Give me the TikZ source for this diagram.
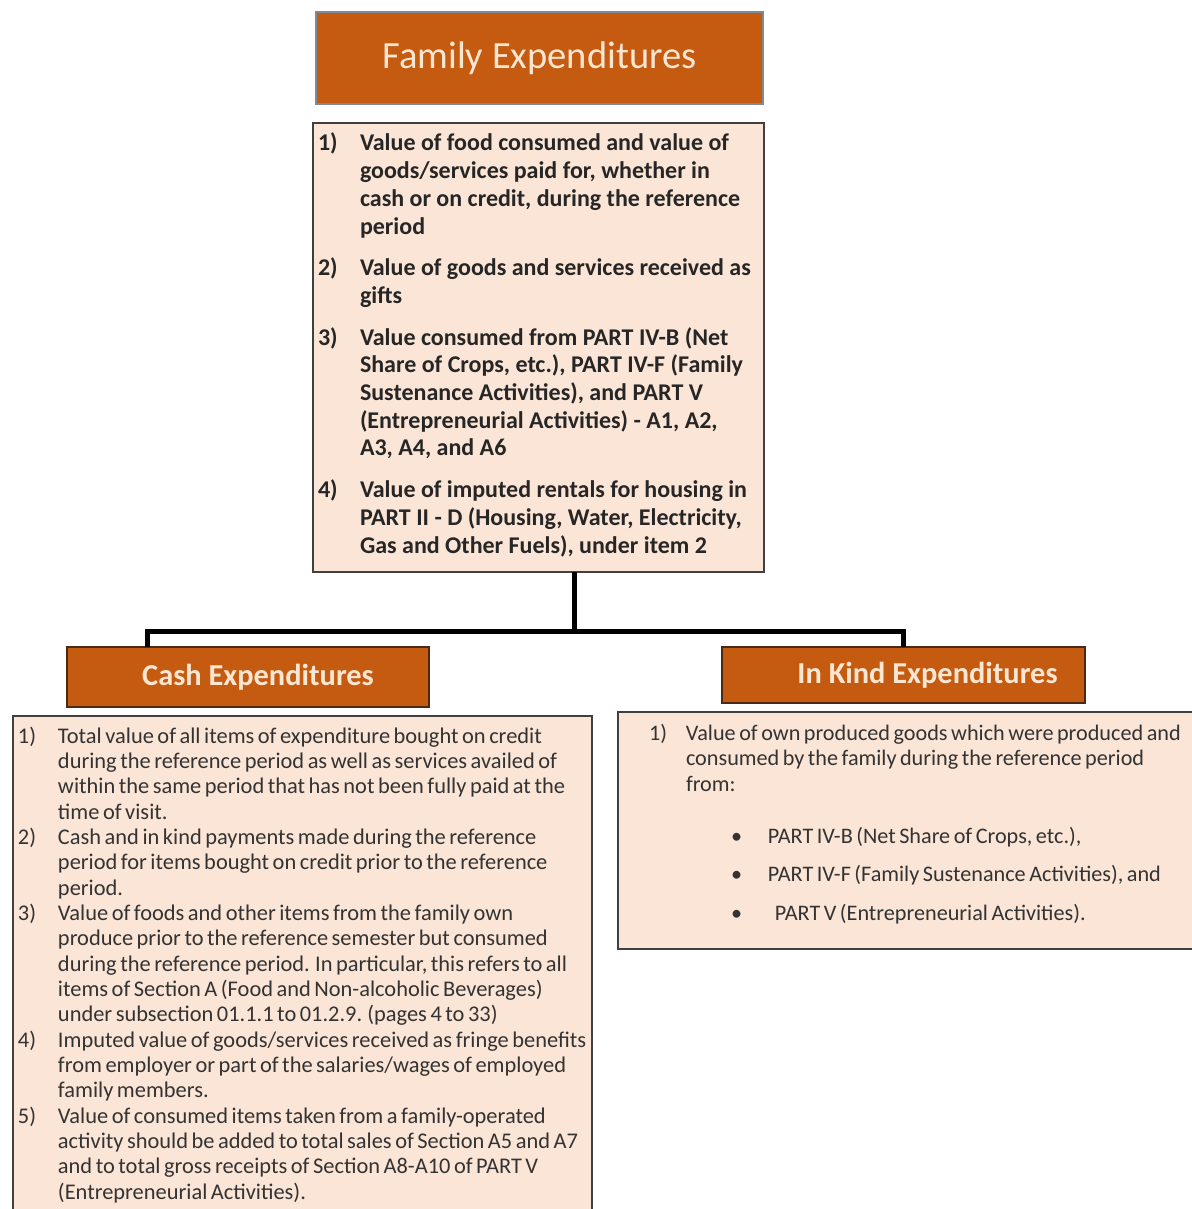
\documentclass[tikz,border=0pt]{standalone}
\usepackage{fontspec}
\setmainfont{Carlito}
\newfontfamily\listfont{Carlito}[WordSpace=0.7]
\usepackage{array}
\definecolor{hdr}{HTML}{C55A11}
\definecolor{cream}{HTML}{FBE6D2}
\definecolor{peach}{HTML}{FBE5D6}
\definecolor{edge}{HTML}{404040}
\definecolor{titleedge}{HTML}{7F8A96}
\definecolor{hdredge}{HTML}{4A2A12}
\definecolor{ink}{HTML}{262626}
\definecolor{softink}{HTML}{333333}
\tikzset{
  titlebox/.style={draw=titleedge, line width=0.8pt, fill=hdr, text=cream,
    inner sep=0pt, outer sep=0pt, anchor=north west,
    font=\fontsize{19.25pt}{23pt}\selectfont},
  headbox/.style={draw=hdredge, line width=1pt, fill=hdr, text=cream,
    inner sep=0pt, outer sep=0pt, anchor=north west,
    font=\bfseries\fontsize{15.2pt}{18pt}\selectfont},
  listbox/.style={draw=edge, line width=1pt, fill=peach,
    inner sep=0pt, outer sep=0pt, anchor=north west},
  listtext/.style={anchor=base west, inner sep=0pt, outer sep=0pt, align=left},
  conn/.style={line width=2.5pt, black, line join=miter}
}
\begin{document}
\begin{tikzpicture}[x=0.5pt,y=-0.5pt]
\useasboundingbox (0,0) rectangle (1192,1209);
\clip (0,0) rectangle (1192,1209);

% heading and summary box
\node[titlebox, minimum width=223.5pt, minimum height=46pt] (title) at (316,12)
  {Family Expenditures};
\node[listbox, minimum width=225.5pt, minimum height=224.5pt] (main) at (313,123) {};
\node[listtext, text=ink, font=\bfseries\fontsize{12pt}{13.85pt}\selectfont] (maintext) at (318,151) {%
\begin{tabular}[t]{@{}p{21pt}@{}l@{}}
1) & Value of food consumed and value of\\
   & goods/services paid for, whether in\\
   & cash or on credit, during the reference\\
   & period\\[7pt]
2) & Value of goods and services received as\\
   & gifts\\[7pt]
3) & Value consumed from PART IV-B (Net\\
   & Share of Crops, etc.), PART IV-F (Family\\
   & Sustenance Activities), and PART V\\
   & (Entrepreneurial Activities) - A1, A2,\\
   & A3, A4, and A6\\[7pt]
4) & Value of imputed rentals for housing in\\
   & PART II - D (Housing, Water, Electricity,\\
   & Gas and Other Fuels), under item 2
\end{tabular}};

% the two branches
\node[headbox, minimum width=181pt, minimum height=30pt] (cash) at (67,647)
  {\hspace*{10pt}Cash Expenditures};
\node[headbox, minimum width=181.5pt, minimum height=28pt] (kind) at (722,647)
  {\hspace*{24pt}In Kind Expenditures};

\node[listbox, minimum width=289.5pt, minimum height=257pt] (cashlist) at (13,716) {};
\node[listbox, minimum width=293.5pt, minimum height=118.5pt] (kindlist) at (618,712) {};

\node[listtext, text=softink, font=\listfont\fontsize{11.2pt}{12.67pt}\selectfont] (cashtext) at (18,743) {%
\begin{tabular}[t]{@{}p{20pt}@{}l@{}}
1) & Total value of all items of expenditure bought on credit\\
   & during the reference period as well as services availed of\\
   & within the same period that has not been fully paid at the\\
   & time of visit.\\
2) & Cash and in kind payments made during the reference\\
   & period for items bought on credit prior to the reference\\
   & period.\\
3) & Value of foods and other items from the family own\\
   & produce prior to the reference semester but consumed\\
   & during the reference period. In particular, this refers to all\\
   & items of Section A (Food and Non-alcoholic Beverages)\\
   & under subsection 01.1.1 to 01.2.9. (pages 4 to 33)\\
4) & Imputed value of goods/services received as fringe benefits\\
   & from employer or part of the salaries/wages of employed\\
   & family members.\\
5) & Value of consumed items taken from a family-operated\\
   & activity should be added to total sales of Section A5 and A7\\
   & and to total gross receipts of Section A8-A10 of PART V\\
   & (Entrepreneurial Activities).
\end{tabular}};

\node[listtext, text=softink, font=\listfont\fontsize{11.1pt}{12.75pt}\selectfont] (kindtext) at (649,740) {%
\begin{tabular}[t]{@{}p{18.5pt}@{}l@{}}
1) & Value of own produced goods which were produced and\\
   & consumed by the family during the reference period\\
   & from:\\[13.25pt]
   & \hspace*{22.5pt}\makebox[18.5pt][l]{\textbullet}PART IV-B (Net Share of Crops, etc.),\\[6.5pt]
   & \hspace*{22.5pt}\makebox[18.5pt][l]{\textbullet}PART IV-F (Family Sustenance Activities), and\\[6.5pt]
   & \hspace*{22.5pt}\makebox[22pt][l]{\textbullet}PART V (Entrepreneurial Activities).
\end{tabular}};

% connectors
\coordinate (stem) at (574,631);
\coordinate (jl) at (147,631);
\coordinate (jr) at (903,631);
\draw[conn] (main.south -| stem) -- (stem);
\draw[conn] (cash.north -| jl) -- (jl) -- (jr) -- (kind.north -| jr);
\end{tikzpicture}
\end{document}
